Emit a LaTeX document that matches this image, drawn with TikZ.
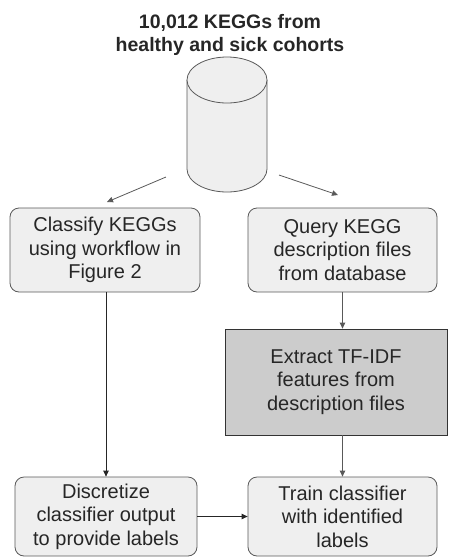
\documentclass[tikz,border=0pt]{standalone}
\usepackage{fontspec}
\setmainfont{Liberation Sans}
\usetikzlibrary{arrows.meta}
\definecolor{boxfill}{HTML}{EFEFEF}
\definecolor{darkfill}{HTML}{CCCCCC}
\definecolor{edgecol}{HTML}{595959}
\begin{document}
\begin{tikzpicture}[x=1pt,y=-1pt,
  box/.style={draw=edgecol, fill=boxfill, rounded corners=9pt, line width=0.8pt, align=center,
    font=\fontsize{20}{23.5}\selectfont, inner sep=0pt, text=black!85},
  sharpbox/.style={box, fill=darkfill, rounded corners=0pt, draw=black!80},
  conn/.style={draw=edgecol, line width=0.8pt, -{Triangle[length=6pt,width=5.5pt]}},
  title/.style={align=center, font=\bfseries\fontsize{19.5}{23}\selectfont, text=black!85}]
\useasboundingbox (0,0) rectangle (454,558);

\node[title] (t) at (230,35) {10,012 KEGGs from\\healthy and sick cohorts};

% database cylinder
\path[fill=boxfill, draw=edgecol, line width=0.8pt] (187,80) -- (187,169)
  arc[start angle=180, end angle=0, x radius=40, y radius=23] -- (267,80);
\draw[edgecol, line width=0.8pt, fill=boxfill] (227,80) ellipse [x radius=40, y radius=23];
\node[minimum width=80pt, minimum height=135pt, inner sep=0pt] (db) at (227,124.5) {};

\node[box, minimum width=190pt, minimum height=84pt] (cls) at (105,250)
  {Classify KEGGs\\using workflow in\\Figure 2};
\node[box, minimum width=189pt, minimum height=84pt] (qry) at (342.5,250)
  {Query KEGG\\description files\\from database};
\node[sharpbox, minimum width=222pt, minimum height=106pt] (ext) at (336,382)
  {Extract TF-IDF\\features from\\description files};
\node[box, minimum width=182pt, minimum height=79pt] (dis) at (106,516.5)
  {Discretize\\classifier output\\to provide labels};
\node[box, minimum width=189pt, minimum height=79pt] (trn) at (342.5,516.5)
  {Train classifier\\with identified\\labels};

\coordinate (a1s) at (166,177);
\coordinate (a1e) at (107,202);
\coordinate (a2s) at (279,175);
\coordinate (a2e) at (338,195);
\draw[conn] (a1s) -- (a1e);
\draw[conn] (a2s) -- (a2e);
\draw[conn, draw=black!85] (cls.south -| dis.north) -- (dis.north);
\draw[conn] (qry.south) -- (qry.south |- ext.north);
\draw[conn] (ext.south -| trn.north) -- (trn.north);
\draw[conn, draw=black!85] (dis.east) -- (trn.west);
\end{tikzpicture}
\end{document}
